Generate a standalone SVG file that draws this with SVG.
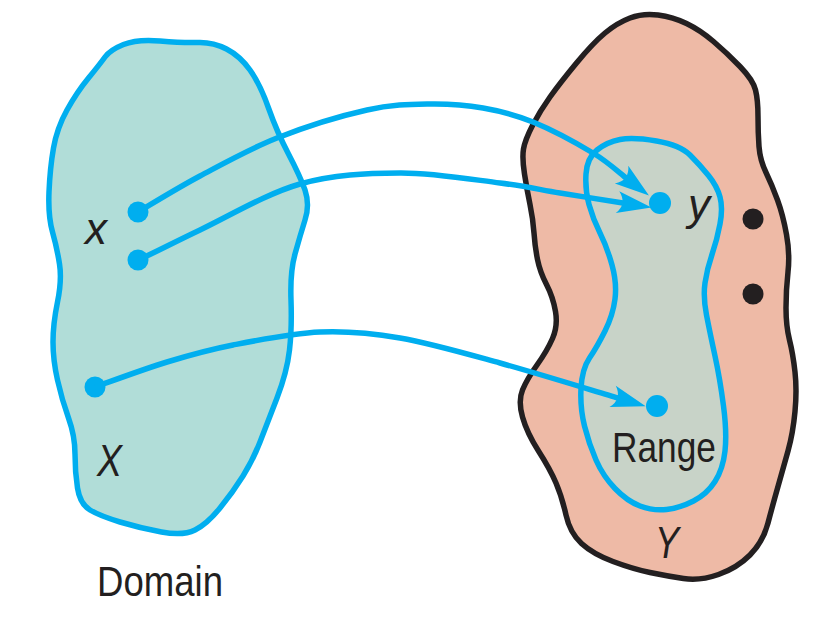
<svg xmlns="http://www.w3.org/2000/svg" width="831" height="628" viewBox="0 0 831 628">
<style>
.lbl{font-family:"Liberation Sans",Arial,sans-serif;fill:#231f20}
.it{font-style:italic;font-size:44px}
.up{font-size:42px}
.conn{fill:none;stroke:#00aeef;stroke-width:5.5}
.bdot{fill:#00aeef}
.kdot{fill:#231f20}
</style>
<defs>
<marker id="ah" markerUnits="userSpaceOnUse" markerWidth="40" markerHeight="30" viewBox="-8 -12 36 24" refX="0" refY="0" orient="auto">
<path d="M26,0 L-5,-10 Q4,0 -5,10 Z" fill="#00aeef"/>
</marker>
</defs>
<rect width="831" height="628" fill="#ffffff"/>

<g id="domain">
<path d="M105,57 Q110,50 123.5,44.5 Q137,39 160,41 Q183,43 198,42.5 Q213,42 226.5,49 Q240,56 250,70 Q260,84 268.5,108 Q277,132 288.5,154 Q300,176 305,190 Q310,205 305,220 Q300,236 295,254 Q290,272 291,300 Q292,328 289.5,350 Q287,372 277,398 Q267,424 260,442 Q253,460 243,476 Q233,492 220,508 Q207,524 195,530 Q183,536 161.5,532 Q140,528 120,522 Q100,516 90,510 Q80,504 77.5,488 Q75,472 75,454 Q75,436 68.5,418 Q62,400 57.5,380 Q53,360 53,342 Q53,324 57.5,302 Q62,280 59.5,264 Q57,248 52.5,232 Q48,216 49,192 Q50,168 53.5,148 Q57,128 67,110 Q77,92 88.5,78 Q100,64 105,57 Z" fill="#b1ddd8" stroke="#00aeef" stroke-width="5.5"/>
<text class="lbl it" x="85" y="244">x</text>
<text class="lbl it" x="97" y="476" textLength="25" lengthAdjust="spacingAndGlyphs">X</text>
<circle class="bdot" cx="138" cy="212" r="10.5"/>
<circle class="bdot" cx="138" cy="260" r="10.5"/>
<circle class="bdot" cx="95" cy="387" r="10.5"/>
</g>
<text id="domain-label" class="lbl up" x="97" y="596" textLength="126" lengthAdjust="spacingAndGlyphs">Domain</text>

<g id="codomain">
<path d="M630,18 Q643,13 658,15 Q673,17 686.5,23.5 Q700,30 713.5,41.5 Q727,53 740,66.5 Q753,80 755.5,90 Q758,100 758,116.5 Q758,133 759,146.5 Q760,160 766,172.5 Q772,185 777.5,200 Q783,215 786.5,234.5 Q790,254 788,272 Q786,290 786,308 Q786,326 789.5,340 Q793,354 795,372 Q797,390 795,411.5 Q793,433 788,451 Q783,469 778,486.5 Q773,504 768,523 Q763,542 750,555 Q737,568 718.5,574.5 Q700,581 683.5,578.5 Q667,576 650,572.5 Q633,569 613,561.5 Q593,554 581.5,543.5 Q570,533 566,515 Q562,497 556,483 Q550,469 538.5,451 Q527,433 522.5,417 Q518,401 522.5,390 Q527,379 537,365 Q547,351 552.5,338.5 Q558,326 555.5,311.5 Q553,297 546.5,284.5 Q540,272 537.5,259.5 Q535,247 534,233 Q533,219 530,204.5 Q527,190 524.5,174 Q522,158 523.5,149 Q525,140 532.5,125.5 Q540,111 550,97 Q560,83 576.5,63 Q593,43 605,33 Q617,23 630,18 Z" fill="#eebaa6" stroke="#231f20" stroke-width="5.5"/>
<text class="lbl it" x="655" y="558" textLength="24" lengthAdjust="spacingAndGlyphs">Y</text>
<circle class="kdot" cx="753" cy="219" r="10.5"/>
<circle class="kdot" cx="753" cy="294" r="10.5"/>
</g>

<g id="range">
<path d="M620,139.5 Q633,137 656.5,141 Q680,145 690,155 Q700,165 708.5,175.5 Q717,186 720,197 Q723,208 720,224 Q717,240 712,254.5 Q707,269 705,283 Q703,297 706.5,315 Q710,333 715,356 Q720,379 723.5,406 Q727,433 725,451 Q723,469 715,481.5 Q707,494 693.5,501 Q680,508 666.5,509.5 Q653,511 640,506 Q627,501 615,488.5 Q603,476 596,460 Q589,444 584.5,426 Q580,408 581,388.5 Q582,369 589.5,358 Q597,347 605,331 Q613,315 615,299 Q617,283 612,265 Q607,247 600,233 Q593,219 589,204.5 Q585,190 586,174 Q587,158 597,150 Q607,142 620,139.5 Z" fill="#c8d3c8" stroke="#00aeef" stroke-width="5.5"/>
<text class="lbl it" x="688" y="220">y</text>
<text class="lbl up" x="612" y="462" textLength="104" lengthAdjust="spacingAndGlyphs">Range</text>
<circle class="bdot" cx="660" cy="203" r="11"/>
<circle class="bdot" cx="657" cy="406" r="11"/>
</g>

<g id="connectors">
<path class="conn" marker-end="url(#ah)" d="M138,212 C148.3,206 176.8,188.3 200,176 C223.2,163.7 249.2,149 277,138 C304.8,127 341.5,115.7 367,110 C392.5,104.3 410.7,104.3 430,104 C449.3,103.7 465.8,105 483,108 C500.2,111 514.7,114.5 533,122 C551.3,129.5 577.5,143.7 593,153 C608.5,162.3 620.5,173.8 626,178"/>
<path class="conn" marker-end="url(#ah)" d="M138,260 C148.3,255.8 173,242.8 200,230 C227,217.2 266.7,193.5 300,184 C333.3,174.5 366.7,173.2 400,173 C433.3,172.8 473.3,179.7 500,183 C526.7,186.3 539.5,189.7 560,193 C580.5,196.3 612.5,201.3 623,203"/>
<path class="conn" marker-end="url(#ah)" d="M95,387 C107,382.8 144,369 167,362 C190,355 207.5,350 233,345 C258.5,340 292.2,333.2 320,332 C347.8,330.8 370,332.8 400,338 C430,343.2 463.7,353 500,363 C536.3,373 598.3,392.2 618,398"/>
</g>
</svg>
